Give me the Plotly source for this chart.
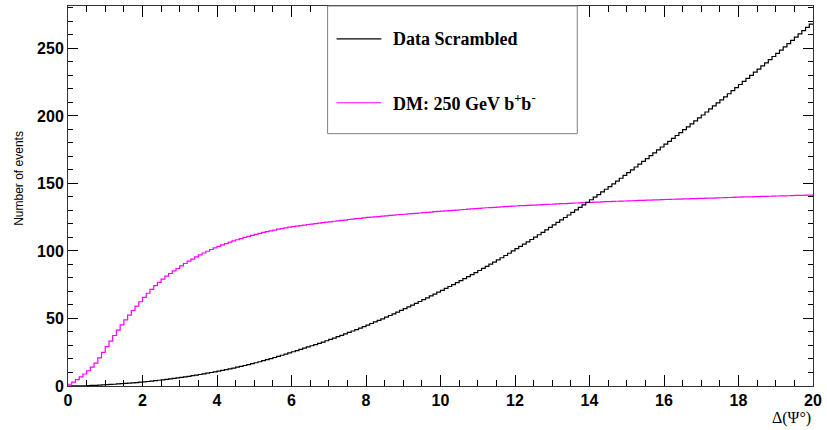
import numpy as np
import plotly.graph_objects as go

# Histogram binning: 200 bins of width 0.1 from 0 to 20 (Delta Psi, degrees)
bin_lo = 0.0
bin_hi = 20.0
n_bins = 200

# Cumulative number of events per bin (value at each bin's upper edge)
data_scrambled = [
    0.01, 0.03, 0.07, 0.13, 0.2, 0.29, 0.39, 0.51, 0.65, 0.8,
    0.96, 1.13, 1.31, 1.5, 1.7, 1.9, 2.11, 2.33, 2.56, 2.8,
    3.07, 3.35, 3.64, 3.94, 4.25, 4.57, 4.9, 5.25, 5.62, 6.0,
    6.39, 6.79, 7.2, 7.63, 8.07, 8.53, 9.0, 9.49, 9.99, 10.5,
    11.03, 11.58, 12.14, 12.72, 13.31, 13.92, 14.54, 15.18, 15.83, 16.5,
    17.22, 17.96, 18.72, 19.5, 20.3, 21.1, 21.92, 22.76, 23.62, 24.5,
    25.36, 26.23, 27.11, 28.0, 28.9, 29.8, 30.71, 31.63, 32.56, 33.5,
    34.49, 35.49, 36.51, 37.54, 38.59, 39.65, 40.72, 41.8, 42.9, 44.0,
    45.13, 46.27, 47.42, 48.59, 49.78, 50.99, 52.22, 53.46, 54.72, 56.0,
    57.28, 58.58, 59.89, 61.22, 62.56, 63.92, 65.29, 66.68, 68.09, 69.5,
    70.88, 72.28, 73.69, 75.11, 76.55, 78.0, 79.46, 80.95, 82.46, 84.0,
    85.52, 87.06, 88.61, 90.18, 91.77, 93.37, 94.99, 96.63, 98.3, 100.0,
    101.67, 103.35, 105.05, 106.76, 108.49, 110.23, 111.99, 113.77, 115.62, 117.5,
    119.3, 121.12, 122.95, 124.79, 126.64, 128.5, 130.37, 132.25, 134.12, 136.0,
    137.92, 139.85, 141.79, 143.74, 145.71, 147.7, 149.7, 151.72, 153.85, 156.0,
    158.05, 160.11, 162.18, 164.26, 166.35, 168.45, 170.56, 172.68, 174.83, 177.0,
    179.1, 181.22, 183.35, 185.49, 187.63, 189.78, 191.94, 194.11, 196.3, 198.5,
    200.7, 202.92, 205.15, 207.39, 209.63, 211.88, 214.14, 216.41, 218.7, 221.0,
    223.26, 225.53, 227.81, 230.1, 232.39, 234.69, 236.99, 239.3, 241.64, 244.0,
    246.36, 248.73, 251.11, 253.5, 255.89, 258.29, 260.7, 263.12, 265.55, 268.0,
]

dm_250_bb = [
    1.3, 2.9, 4.7, 6.7, 8.9, 11.3, 14.0, 17.0, 20.8, 24.9,
    29.1, 33.3, 37.4, 41.4, 45.3, 49.0, 52.5, 55.9, 59.2, 62.4,
    65.6, 68.7, 71.6, 74.3, 76.8, 79.1, 81.3, 83.3, 85.2, 87.0,
    88.9, 90.7, 92.4, 94.0, 95.6, 97.1, 98.5, 99.8, 101.1, 102.3,
    103.4, 104.5, 105.5, 106.5, 107.4, 108.3, 109.2, 110.0, 110.8, 111.6,
    112.3, 113.0, 113.7, 114.3, 114.9, 115.5, 116.1, 116.6, 117.1, 117.6,
    118.0, 118.4, 118.8, 119.2, 119.6, 119.9, 120.3, 120.6, 121.0, 121.3,
    121.6, 122.0, 122.3, 122.6, 122.9, 123.3, 123.6, 123.9, 124.2, 124.5,
    124.8, 125.0, 125.3, 125.5, 125.8, 126.0, 126.3, 126.5, 126.8, 127.0,
    127.2, 127.5, 127.7, 127.9, 128.1, 128.4, 128.6, 128.8, 129.1, 129.3,
    129.5, 129.7, 129.9, 130.1, 130.3, 130.5, 130.7, 131.0, 131.2, 131.4,
    131.6, 131.8, 132.0, 132.1, 132.3, 132.5, 132.7, 132.9, 133.0, 133.2,
    133.3, 133.5, 133.6, 133.8, 133.9, 134.0, 134.2, 134.3, 134.5, 134.6,
    134.7, 134.9, 135.0, 135.1, 135.2, 135.4, 135.5, 135.6, 135.8, 135.9,
    136.0, 136.1, 136.2, 136.3, 136.5, 136.6, 136.7, 136.8, 136.9, 137.0,
    137.1, 137.2, 137.3, 137.4, 137.5, 137.6, 137.7, 137.8, 137.9, 138.0,
    138.1, 138.2, 138.3, 138.4, 138.4, 138.5, 138.6, 138.7, 138.8, 138.9,
    139.0, 139.1, 139.2, 139.2, 139.3, 139.4, 139.5, 139.6, 139.7, 139.8,
    139.9, 140.0, 140.0, 140.1, 140.2, 140.3, 140.4, 140.4, 140.5, 140.6,
    140.7, 140.8, 140.8, 140.9, 141.0, 141.1, 141.2, 141.2, 141.3, 141.4,
]

x_ticks = [0, 2, 4, 6, 8, 10, 12, 14, 16, 18, 20]
y_ticks = [0, 50, 100, 150, 200, 250]

series_names = ["Data Scrambled", "DM: 250 GeV b<sup>+</sup>b<sup>-</sup>"]
series_colors = ["#000000", "#ff00ff"]
x_title = "Δ(Ψ°)"
y_title = "Number of events"

# ---- step outlines (ROOT "HIST" style) ----
edges = np.linspace(bin_lo, bin_hi, n_bins + 1)


def step_xy(vals):
    v = np.asarray(vals, dtype=float)
    return edges, np.append(v, v[-1])


fig = go.Figure()
for vals, col in zip([dm_250_bb, data_scrambled], [series_colors[1], series_colors[0]]):
    sx, sy = step_xy(vals)
    fig.add_trace(go.Scatter(x=sx, y=sy, mode="lines", line=dict(color=col, width=1.2, shape="hv"),
                             showlegend=False, hoverinfo="skip"))

ymax = max(max(data_scrambled), max(dm_250_bb)) * 1.05

# plot-area geometry in pixels (for legend placement)
W, H = 827, 430
L, R, T, B = 68, 817, 5, 386


def px(xp):
    return (xp - L) / (R - L)


def py(yp):
    return (B - yp) / (B - T)


tickfont = dict(family="Liberation Sans, Arial", size=16, color="black", weight="bold")

fig.update_layout(
    width=W, height=H,
    margin=dict(l=L, r=W - R, t=T, b=H - B),
    paper_bgcolor="white", plot_bgcolor="white",
    xaxis=dict(range=[bin_lo, bin_hi], tickvals=x_ticks, ticks="inside", ticklen=11,
               tickcolor="black", tickwidth=1, showline=True, linecolor="#333333", linewidth=1,
               mirror="allticks", showgrid=False, zeroline=False, tickfont=tickfont,
               minor=dict(dtick=0.5, ticks="inside", ticklen=6, tickcolor="black", showgrid=False)),
    yaxis=dict(range=[0, ymax], tickvals=y_ticks, ticks="inside", ticklen=10,
               tickcolor="black", tickwidth=1, showline=True, linecolor="#333333", linewidth=1,
               mirror="allticks", showgrid=False, zeroline=False, tickfont=tickfont,
               minor=dict(dtick=10, ticks="inside", ticklen=5, tickcolor="black", showgrid=False)),
)

# axis titles
fig.add_annotation(text=y_title, xref="paper", yref="paper", x=px(18), y=py(178),
                   xanchor="center", yanchor="middle", textangle=-90, showarrow=False,
                   font=dict(family="Liberation Sans, Arial", size=12, color="black"))
fig.add_annotation(text=x_title, xref="paper", yref="paper", x=1.0, y=py(418),
                   xanchor="right", yanchor="middle", showarrow=False,
                   font=dict(family="Liberation Serif, Times New Roman", size=16, color="black"))

# legend box
fig.add_shape(type="rect", xref="paper", yref="paper", x0=px(329), x1=px(580), y0=py(133), y1=py(5),
              line=dict(color="#7f7f7f", width=1), fillcolor="white", layer="above")
for name, col, yl in zip(series_names, series_colors, [38, 102]):
    fig.add_shape(type="line", xref="paper", yref="paper", x0=px(338), x1=px(383), y0=py(yl), y1=py(yl),
                  line=dict(color=col, width=1.2), layer="above")
    fig.add_annotation(text=name, xref="paper", yref="paper", x=px(393), y=py(yl),
                       xanchor="left", yanchor="middle", showarrow=False,
                       font=dict(family="Liberation Serif, Times New Roman", size=18, color="black",
                                 weight="bold"))

fig.write_html("out.html", post_script="document.body.style.margin='0px';",
               config={"displayModeBar": False})
